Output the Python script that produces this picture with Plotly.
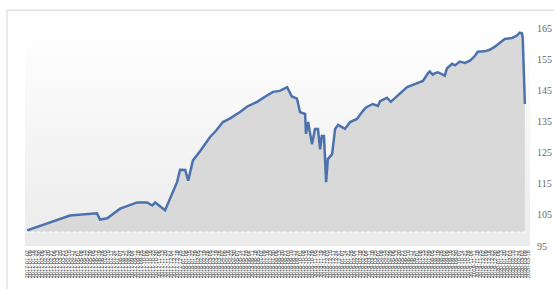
import pandas as pd
import plotly.graph_objects as go

start_date = "2017-01-02"
day_offsets = [0, 100, 163, 170, 187, 217, 257, 280, 292, 299, 322, 350, 357, 369, 376,
               387, 404, 427, 441, 457, 474, 497, 514, 537, 556, 574, 590, 607, 618, 630,
               637, 649, 651, 656,
               665, 672, 679, 684, 688, 693, 698, 702, 712, 719, 726, 742, 754, 770, 784,
               791, 807, 819, 824, 840, 849, 859, 870, 887, 905, 924, 936, 940, 947, 952,
               959, 975, 980, 992, 999, 1010, 1022, 1034, 1045, 1052, 1068, 1080, 1092,
               1104, 1115, 1132, 1143, 1150, 1155, 1157, 1162]
values = [100.0, 104.8, 105.5, 103.5, 103.9, 107.0, 109.0, 109.0, 108.0, 109.0, 106.5,
          115.5, 119.5, 119.4, 116.0, 122.5, 125.5, 130.0, 132.0, 134.8, 136.0, 138.0,
          139.8, 141.3, 143.0, 144.5,
          144.8, 146.0, 143.0, 142.3, 138.0, 137.4, 131.0, 134.8, 127.7, 132.6, 132.6,
          126.0, 130.3, 130.3, 115.5, 122.9, 124.5, 132.6, 133.9, 132.6, 134.8, 135.8,
          138.4, 139.5, 140.6, 140.0, 141.5, 142.6, 141.3, 142.5, 144.0, 146.0, 147.0,
          148.0, 150.5, 151.0, 150.0, 150.5, 150.8, 149.7, 152.0, 153.5, 153.0, 154.2,
          153.8, 154.5, 156.0, 157.4, 157.5, 158.0, 159.0, 160.3, 161.5, 161.8, 162.5,
          163.5, 163.3, 162.0, 140.6]
baseline = 99.5
y_ticks = [95, 105, 115, 125, 135, 145, 155, 165]
y_range = [95, 165]
x_range_days = [-5, 1174]

t0 = pd.Timestamp(start_date)
dates = [t0 + pd.Timedelta(days=d) for d in day_offsets]
x0 = t0 + pd.Timedelta(days=x_range_days[0])
x1 = t0 + pd.Timedelta(days=x_range_days[1])

fig = go.Figure()

# plot-area background gradient
fig.add_trace(go.Scatter(
    x=[x0, x1, x1, x0, x0], y=[y_range[0], y_range[0], y_range[1], y_range[1], y_range[0]],
    mode="none", fill="toself",
    fillgradient=dict(type="vertical", colorscale=[[0, "#ebebeb"], [1, "#ffffff"]]),
    hoverinfo="skip", showlegend=False))

# baseline for area
fig.add_trace(go.Scatter(x=[dates[0], dates[-1]], y=[baseline, baseline], mode="lines",
                         line=dict(width=0, color="rgba(0,0,0,0)"), showlegend=False,
                         hoverinfo="skip"))
fig.add_trace(go.Scatter(x=dates, y=values, mode="lines", fill="tonexty",
                         fillcolor="#d9d9d9", line=dict(color="#4c72ae", width=2.5),
                         showlegend=False))

fig.add_shape(type="line", xref="x", yref="y", x0=x0, x1=x1, y0=baseline, y1=baseline,
              line=dict(color="#ffffff", width=1, dash="dot"))

# outer frame
fig.add_shape(type="rect", xref="paper", yref="paper", x0=-0.0356, x1=1.2, y0=-0.4, y1=1.082,
              line=dict(color="#dcdcdc", width=1.2), fillcolor="rgba(0,0,0,0)", layer="below")

fig.update_layout(
    width=554, height=289,
    margin=dict(l=25, r=24, t=28, b=43, autoexpand=False),
    paper_bgcolor="white", plot_bgcolor="white",
    xaxis=dict(type="date", range=[x0, x1], showgrid=False, zeroline=False, showline=False,
               automargin=False,
               tick0=start_date, dtick=7 * 86400000, tickformat="%Y-%m-%d", tickangle=-90,
               tickfont=dict(size=5.5, color="#444444", family="Liberation Sans"),
               ticks="", ticklabelstandoff=2),
    yaxis=dict(range=y_range, side="right", tickvals=y_ticks, showgrid=False, zeroline=False,
               automargin=False,
               showline=False, ticks="", ticklabelstandoff=6,
               tickfont=dict(size=10, color="#666666", family="Liberation Serif")),
)

fig.write_html("out.html", config={"displayModeBar": False},
               post_script="document.body.style.margin='0';document.body.style.overflow='hidden';")
